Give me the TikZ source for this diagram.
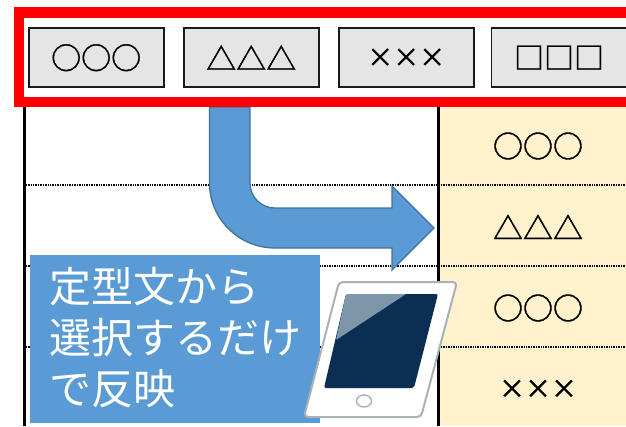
\documentclass[tikz,border=0pt]{standalone}
\usepackage{fontspec}
\setmainfont{Noto Sans CJK JP}
\newfontfamily\symbolfont[FakeBold=1.2]{Noto Sans CJK JP}
\usepackage{xcolor}
\usetikzlibrary{positioning}
\definecolor{panelblue}{HTML}{5B9BD5}
\definecolor{panelline}{HTML}{41719C}
\definecolor{cellyellow}{HTML}{FFF2CC}
\definecolor{screennavy}{HTML}{0B2F52}
\definecolor{screenglare}{HTML}{7E96A8}
\definecolor{tabletgrey}{HTML}{A9B1B8}

\begin{document}
\begin{tikzpicture}[x=1pt,y=-1pt]
            \tikzset{choice/.style = {draw=black!90,line width=1.6pt,fill=black!10,minimum width=135pt,minimum height=59pt,inner sep=0pt,font=\symbolfont\fontsize{30}{30}\selectfont}}
            \tikzset{cell/.style = {inner sep=0pt,font=\symbolfont\fontsize{30}{30}\selectfont}}
            \tikzset{cross/.style = {font=\symbolfont\fontsize{26}{26}\selectfont}}
            \tikzset{rowline/.style = {line width=2.2pt,dash pattern=on 1pt off 0.7pt,black}}
            \tikzset{gridline/.style = {line width=2.8pt,black}}

            \useasboundingbox (0,0) rectangle (626,426);
            \clip (0,0) rectangle (626,426);
            \fill[white] (0,0) rectangle (626,426);

            % table
            \fill[cellyellow] (440,107) rectangle (626,426);
            \draw[rowline] (26,185) -- (626,185);
            \draw[rowline] (26,266) -- (626,266);
            \draw[rowline] (26,347) -- (626,347);
            \draw[gridline] (24.5,100) -- (24.5,426);
            \draw[gridline] (438.7,100) -- (438.7,426);

            \node[cell] (c1) at (538,146) {○○○};
            \node[cell] (c2) at (538,227) {△△△};
            \node[cell] (c3) at (538,308) {○○○};
            \node[cell,cross] (c4) at (538,389) {×××};

            % arrow
            \draw[fill=panelblue,draw=panelline,line width=1.3pt] (209.5,107)
                -- (209.5,183) .. controls (209.5,219) and (239,248) .. (275,248)
                -- (392,248) -- (392,270) -- (434,228) -- (392,186) -- (392,208)
                -- (275,208) .. controls (261,208) and (250,197) .. (250,183)
                -- (250,107) -- cycle;

            % top choices
            \draw[red,line width=10.5pt] (640,12.5) -- (19,12.5) -- (19,102) -- (640,102);
            \node[choice] (b1) at (96.2,57.7) {○○○};
            \node[choice] (b2) at (251.2,57.7) {△△△};
            \node[choice,cross] (b3) at (406.2,57.7) {×××};
            \node[choice] (b4) at (559,57.7) {□□□};

            % caption
            \fill[panelblue] (30,255) rectangle (320,423);
            \node[anchor=north west,inner sep=0pt,text=white,align=left,font=\fontsize{42}{51}\selectfont] (caption) at (49,267) {定型文から\\選択するだけ\\で反映};

            % tablet
            \draw[fill=white,draw=tabletgrey,line width=2pt,rounded corners=4pt] (339,282) -- (457,282) -- (421,417) -- (304,417) -- cycle;
            \fill[screennavy,rounded corners=2pt] (346,294) -- (438,294) -- (414,388) -- (324,388) -- cycle;
            \fill[screenglare,rounded corners=1pt] (346,294) -- (406,294) -- (336,340) -- cycle;
            \draw[tabletgrey,line width=1.4pt] (364,401) ellipse [x radius=7.5,y radius=6];
        \end{tikzpicture}
\end{document}
